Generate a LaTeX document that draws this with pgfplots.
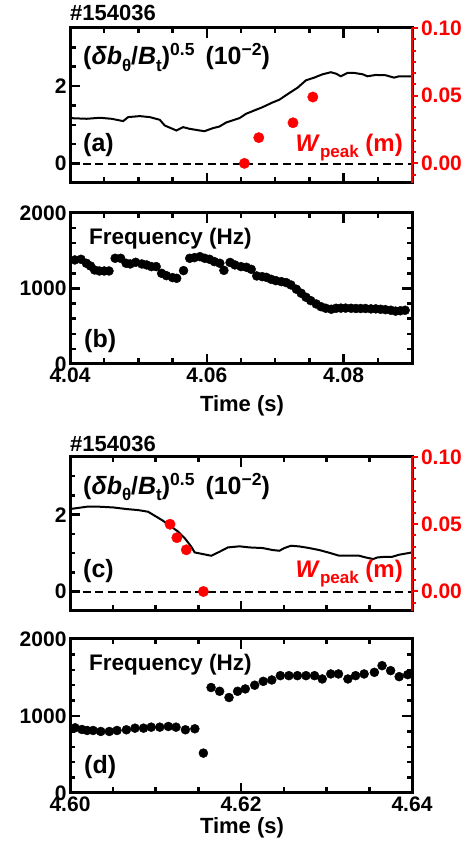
\documentclass[border=0pt]{standalone}
\usepackage{fontspec}
\setmainfont{Liberation Sans}
\usepackage{pgfplots}
\usepackage{pgfplotstable}
\pgfplotsset{compat=1.18}

\newcommand{\sub}[1]{\raisebox{-0.25em}{\fontsize{17}{17}\selectfont #1}}
\newcommand{\sups}[1]{\raisebox{0.36em}{\fontsize{17.5}{17.5}\selectfont #1}}
\newcommand{\ticklbl}{\fontsize{21}{21}\selectfont\bfseries}

\pgfplotsset{
  panel/.style={
    scale only axis, width=342pt, anchor=south west,
    axis line style={line width=3pt},
    every tick/.style={black, line width=2.5pt},
    major tick length=10pt, minor tick length=5.5pt,
    tick align=inside,
    ticklabel style={font=\ticklbl},
  },
  wpeak/.style={
    scale only axis, width=342pt, anchor=south west,
    axis x line=none, axis y line*=right,
    ymin=-0.0145, ymax=0.10,
    ytick={0,0.05,0.1}, yticklabels={0.00,0.05,0.10},
    minor ytick={-0.00833,0.00833,0.01667,0.025,0.03333,0.04167,0.05833,0.06667,0.075,0.08333,0.09167},
    y axis line style={red, line width=2.5pt},
    every tick/.style={red, line width=2pt},
    tick align=outside, major tick length=5.5pt, minor tick length=3.5pt,
    yticklabel style={red, font=\ticklbl},
  },
}

% panel (a): (delta b/B)^0.5
\pgfplotstableread{
t v
4.04000 1.174
4.04243 1.157
4.04437 1.183
4.04607 1.157
4.04777 1.097
4.04850 1.200
4.05020 1.226
4.05166 1.200
4.05312 1.131
4.05385 0.984
4.05555 0.855
4.05652 0.941
4.05749 0.898
4.05895 0.855
4.05968 0.838
4.06089 0.915
4.06187 0.959
4.06284 1.062
4.06478 1.174
4.06575 1.287
4.06672 1.356
4.06818 1.459
4.06964 1.580
4.07061 1.649
4.07207 1.822
4.07328 1.960
4.07450 2.150
4.07571 2.219
4.07693 2.306
4.07814 2.358
4.07887 2.323
4.07960 2.254
4.08057 2.340
4.08155 2.340
4.08276 2.306
4.08349 2.254
4.08470 2.288
4.08616 2.280
4.08738 2.219
4.08811 2.254
4.09000 2.254
}\tblA

\pgfplotstableread{
t w
4.0655 0.000
4.0676 0.019
4.0726 0.030
4.0755 0.049
}\tblAw

% panel (b): frequency
\pgfplotstableread{
t f
4.0407 1378
4.0416 1387
4.0424 1334
4.0430 1298
4.0436 1245
4.0443 1232
4.0450 1232
4.0457 1232
4.0466 1400
4.0474 1400
4.0482 1334
4.0488 1325
4.0496 1347
4.0505 1325
4.0512 1312
4.0519 1290
4.0526 1290
4.0534 1201
4.0541 1170
4.0550 1144
4.0556 1135
4.0566 1237
4.0575 1400
4.0582 1409
4.0590 1422
4.0597 1400
4.0604 1387
4.0611 1356
4.0619 1334
4.0625 1240
4.0634 1345
4.0641 1312
4.0650 1290
4.0658 1281
4.0665 1254
4.0673 1166
4.0681 1157
4.0687 1148
4.0694 1122
4.0701 1104
4.0709 1091
4.0716 1078
4.0723 1047
4.0731 990
4.0738 937
4.0745 884
4.0752 839
4.0760 795
4.0767 759
4.0774 738
4.0782 725
4.0789 738
4.0796 740
4.0803 740
4.0811 738
4.0818 735
4.0825 735
4.0832 735
4.0840 730
4.0847 730
4.0854 725
4.0861 720
4.0869 712
4.0876 700
4.0883 705
4.0890 712
}\tblB

% panel (c)
\pgfplotstableread{
t v
4.60000 2.148
4.60195 2.208
4.60350 2.208
4.60505 2.190
4.60661 2.148
4.60797 2.121
4.60913 2.078
4.61011 1.948
4.61088 1.844
4.61166 1.714
4.61263 1.567
4.61341 1.394
4.61419 1.169
4.61458 1.021
4.61555 0.978
4.61652 0.935
4.61749 1.039
4.61846 1.151
4.61983 1.180
4.62099 1.151
4.62255 1.135
4.62371 1.083
4.62449 1.065
4.62507 1.135
4.62585 1.195
4.62682 1.177
4.62799 1.135
4.62915 1.083
4.63032 1.013
4.63149 0.935
4.63265 0.935
4.63382 0.935
4.63460 0.891
4.63545 0.849
4.63595 0.891
4.63693 0.909
4.63770 0.909
4.63848 0.961
4.64000 1.021
}\tblC

\pgfplotstableread{
t w
4.6117 0.050
4.6125 0.040
4.6136 0.031
4.6156 0.000
}\tblCw

% panel (d): frequency
\pgfplotstableread{
t f
4.6006 847
4.6014 825
4.6020 812
4.6027 812
4.6036 799
4.6046 799
4.6055 812
4.6066 821
4.6076 842
4.6086 842
4.6095 855
4.6105 855
4.6115 864
4.6124 855
4.6135 821
4.6146 834
4.6156 518
4.6165 1370
4.6175 1321
4.6186 1240
4.6196 1321
4.6205 1352
4.6216 1400
4.6226 1450
4.6236 1468
4.6246 1524
4.6256 1524
4.6266 1524
4.6276 1524
4.6286 1524
4.6295 1481
4.6305 1546
4.6314 1546
4.6325 1481
4.6334 1524
4.6344 1546
4.6356 1567
4.6365 1654
4.6375 1589
4.6385 1511
4.6395 1537
}\tblD

\begin{document}
\begin{tikzpicture}
\path[use as bounding box] (0,0) rectangle (465pt,845pt);

% ---------- (a)
\begin{axis}[panel, at={(70pt,662pt)}, height=155pt,
  xmin=4.04, xmax=4.09, xtick={4.04,4.06,4.08}, xticklabels={},
  minor xtick={4.045,4.05,4.055,4.065,4.07,4.075,4.085},
  ymin=-0.5, ymax=3.5, ytick={0,2}, yticklabels={0,2},
  minor ytick={0.5,1,1.5,2.5,3}, ytick pos=left]
\addplot[black, line width=2pt, dash pattern=on 8pt off 4.5pt] coordinates {(4.04,0) (4.09,0)};
\addplot[black, line width=2pt, no marks] table[x=t, y=v] {\tblA};
\end{axis}
\begin{axis}[wpeak, at={(70pt,662pt)}, height=155pt, xmin=4.04, xmax=4.09]
\addplot[red, only marks, mark=*, mark size=5.2pt] table[x=t, y=w] {\tblAw};
\end{axis}

% ---------- (b)
\begin{axis}[panel, at={(70pt,481pt)}, height=151pt,
  xmin=4.04, xmax=4.09, xtick={4.04,4.06,4.08}, xticklabels={4.04,4.06,4.08},
  minor xtick={4.045,4.05,4.055,4.065,4.07,4.075,4.085},
  ymin=0, ymax=2000, ytick={0,1000,2000}, yticklabels={0,1000,2000},
  minor ytick={200,400,600,800,1200,1400,1600,1800}]
\addplot[black, only marks, mark=*, mark size=4.5pt] table[x=t, y=f] {\tblB};
\end{axis}

% ---------- (c)
\begin{axis}[panel, at={(70pt,234pt)}, height=154pt,
  xmin=4.60, xmax=4.64, xtick={4.60,4.62,4.64}, xticklabels={},
  minor xtick={4.605,4.61,4.615,4.625,4.63,4.635},
  ymin=-0.5, ymax=3.5, ytick={0,2}, yticklabels={0,2},
  minor ytick={0.5,1,1.5,2.5,3}, ytick pos=left]
\addplot[black, line width=2pt, dash pattern=on 8pt off 4.5pt] coordinates {(4.60,0) (4.64,0)};
\addplot[black, line width=2pt, no marks] table[x=t, y=v] {\tblC};
\end{axis}
\begin{axis}[wpeak, at={(70pt,234pt)}, height=154pt, xmin=4.60, xmax=4.64]
\addplot[red, only marks, mark=*, mark size=5.2pt] table[x=t, y=w] {\tblCw};
\end{axis}

% ---------- (d)
\begin{axis}[panel, at={(70pt,52pt)}, height=154pt,
  xmin=4.60, xmax=4.64, xtick={4.60,4.62,4.64}, xticklabels={4.60,4.62,4.64},
  minor xtick={4.605,4.61,4.615,4.625,4.63,4.635},
  ymin=0, ymax=2000, ytick={0,1000,2000}, yticklabels={0,1000,2000},
  minor ytick={200,400,600,800,1200,1400,1600,1800}]
\addplot[black, only marks, mark=*, mark size=4.5pt] table[x=t, y=f] {\tblD};
\end{axis}

% ---------- texts
\tikzset{lab/.style={inner sep=0pt, font=\fontsize{25}{25}\selectfont\bfseries}}
\node[lab, anchor=base west, font=\fontsize{22}{22}\selectfont\bfseries] at (70pt,824.5pt) {\#154036};
\node[lab, anchor=base west] at (83pt,780pt) {(\textit{δb}\sub{θ}/\textit{B}\sub{t})\sups{0.5}\hspace{4pt} (10\sups{−2})};
\node[lab, anchor=base west] at (83pt,693pt) {(a)};
\node[lab, anchor=base east, red, font=\fontsize{24}{24}\selectfont\bfseries] at (403pt,693pt) {\textit{W}\sub{peak} (m)};

\node[lab, anchor=base west, font=\fontsize{22.5}{22.5}\selectfont\bfseries] at (89pt,600.5pt) {Frequency (Hz)};
\node[lab, anchor=base west] at (84pt,497pt) {(b)};
\node[lab, anchor=base, font=\fontsize{22}{22}\selectfont\bfseries] at (242pt,433.5pt) {Time (s)};

\node[lab, anchor=base west, font=\fontsize{22}{22}\selectfont\bfseries] at (70pt,393.3pt) {\#154036};
\node[lab, anchor=base west] at (83pt,350.5pt) {(\textit{δb}\sub{θ}/\textit{B}\sub{t})\sups{0.5}\hspace{4pt} (10\sups{−2})};
\node[lab, anchor=base west] at (83pt,267.5pt) {(c)};
\node[lab, anchor=base east, red, font=\fontsize{24}{24}\selectfont\bfseries] at (403pt,267pt) {\textit{W}\sub{peak} (m)};

\node[lab, anchor=base west, font=\fontsize{22.5}{22.5}\selectfont\bfseries] at (89pt,174pt) {Frequency (Hz)};
\node[lab, anchor=base west] at (84pt,71.5pt) {(d)};
\node[lab, anchor=base, font=\fontsize{22}{22}\selectfont\bfseries] at (242pt,12pt) {Time (s)};
\end{tikzpicture}
\end{document}
